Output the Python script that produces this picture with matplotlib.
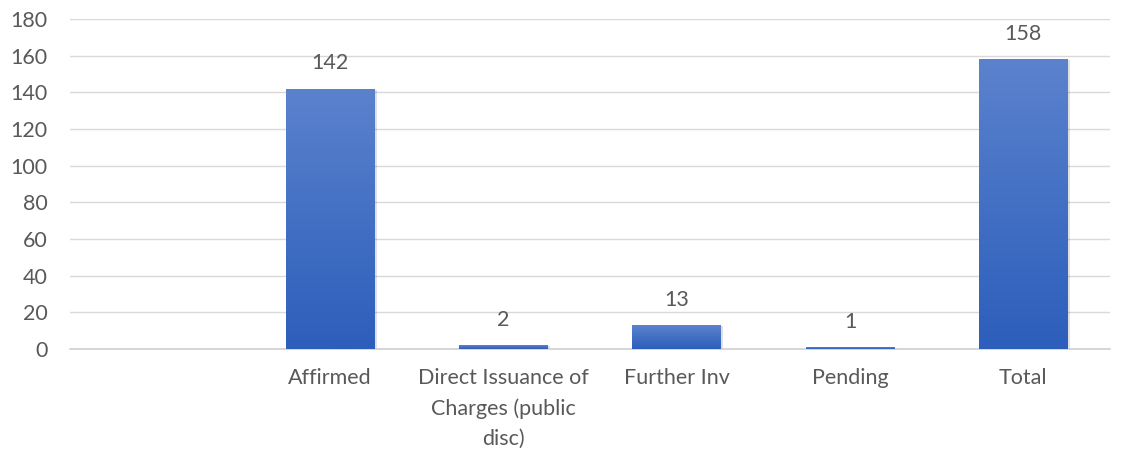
import numpy as np
import matplotlib.pyplot as plt
from matplotlib.colors import LinearSegmentedColormap

# data
categories = ["", "Affirmed", "Direct Issuance of\nCharges (public\ndisc)", "Further Inv", "Pending", "Total"]
values = [np.nan, 142, 2, 13, 1, 158]

text_col = "#595959"
fs = 15.5
plt.rcParams["font.family"] = ["Lato", "DejaVu Sans"]

fig = plt.figure(figsize=(11.26, 4.68), dpi=100)
ax = fig.add_axes([0.0622, 0.2543, 0.9236, 0.7051])

x = np.arange(len(categories))
width = 0.51
bars = ax.bar(x, values, width=width, color="none", zorder=3)

# excel style vertical gradient inside each bar
cmap = LinearSegmentedColormap.from_list("blu", ["#2c5ebb", "#5b82cd"])
grad = np.linspace(0, 1, 256).reshape(-1, 1)
for b, v in zip(bars, values):
    if np.isnan(v):
        continue
    x0 = b.get_x()
    # faint shadow
    ax.bar(x0 + width / 2 + 0.008, v, width=width + 0.012, bottom=-0.6,
           color="#000000", alpha=0.12, zorder=2)
    im = ax.imshow(grad, extent=(x0, x0 + width, 0, v), origin="lower",
                   aspect="auto", cmap=cmap, zorder=3)
    im.set_clip_path(b)
    ax.annotate(f"{v:g}", (b.get_x() + width / 2, v), xytext=(0, 11),
                textcoords="offset points", ha="center", va="bottom",
                fontsize=fs, color=text_col)

ax.set_xlim(-0.5, len(categories) - 0.5)
ax.set_ylim(0, 180)
ax.set_yticks(range(0, 181, 20))
ax.set_xticks(x)
ax.set_xticklabels(categories, fontsize=fs, color=text_col, linespacing=1.6)
ax.tick_params(axis="y", labelsize=fs, labelcolor=text_col, length=0, pad=16)
ax.tick_params(axis="x", length=0, pad=14)

ax.grid(axis="y", color="#d9d9d9", linewidth=1, zorder=0)
ax.set_axisbelow(True)
for s in ["top", "right", "left"]:
    ax.spines[s].set_visible(False)
ax.spines["bottom"].set_color("#d0d0d0")
ax.spines["bottom"].set_linewidth(1.2)

fig.savefig("out.png", dpi=100)
